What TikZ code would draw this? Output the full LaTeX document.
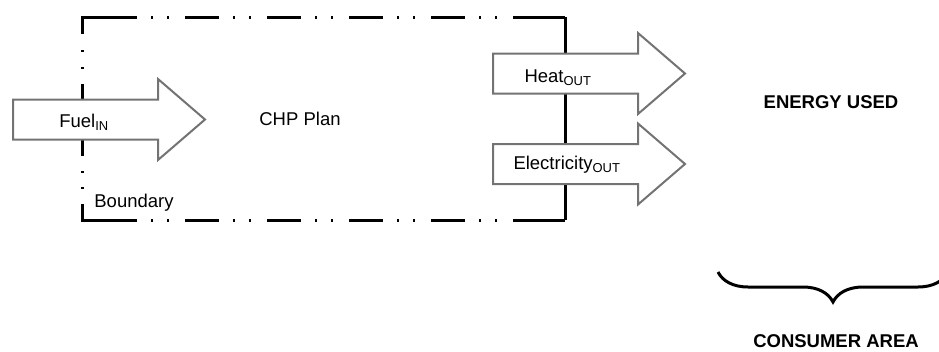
\documentclass[tikz,border=0pt]{standalone}
\usepackage{fontspec}
\setmainfont{Liberation Sans}
\usetikzlibrary{decorations.pathreplacing, positioning}

\begin{document}
\begin{tikzpicture}[x=1pt, y=-1pt,
  lbl/.style={font=\fontsize{18.5}{22}\selectfont, inner sep=0pt},
  hdr/.style={font=\fontsize{18.5}{22}\selectfont\bfseries, inner sep=0pt},
  flow/.style={draw=black!55, line width=2pt, fill=white, line join=miter},
  edge/.style={line width=3pt},
  hline/.style={edge, dash pattern=on 34pt off 14pt on 2pt off 14pt on 2pt off 16pt,
                dash phase=61pt},
  vline/.style={edge, dash pattern=on 17pt off 16pt on 2pt off 15pt on 2pt off 15pt
                on 72pt off 15pt on 2pt off 14pt on 2pt off 15pt on 20pt off 1pt},
]
  \useasboundingbox (0,0) rectangle (939,351);

  % plant boundary
  \coordinate (nw) at (82,17);
  \coordinate (ne) at (565,17);
  \coordinate (sw) at (82,220);
  \coordinate (se) at (565,220);
  \draw[hline] (nw) -- (ne);
  \draw[hline] (sw) -- (se);
  \draw[vline] (nw) -- (sw);
  \draw[edge] (ne) -- (se);
  \draw[edge] (103,17) -- (nw) -- (82,34);
  \draw[edge] (103,220) -- (sw) -- (82,205);
  \draw[edge] (545,17) -- (ne);
  \draw[edge] (545,220) -- (se);

  % energy flows (tail x / centre y)
  \foreach \tx/\cy in {13/119.5, 493/73.5, 493/164}
    \draw[flow] (\tx,\cy-20) -- ++(145,0) -- ++(0,-20.5) -- ++(47,40.5)
      -- ++(-47,40.5) -- ++(0,-20.5) -- ++(-145,0) -- cycle;

  \node[lbl] (fuel) at (84,122) {Fuel\textsubscript{IN}};
  \node[lbl] (heat) at (558,78) {Heat\textsubscript{OUT}};
  \node[lbl] (elec) at (567,165) {Electricity\textsubscript{OUT}};

  \node[lbl] (chp) at (300,119) {CHP Plan};
  \node[lbl] (bnd) at (134,203) {Boundary};
  \node[hdr] (used) at (831,102) {ENERGY USED};
  \node[hdr] (area) at (836,341) {CONSUMER AREA};

  \draw[edge, decorate, decoration={brace, amplitude=30pt, mirror}]
    (718,272) -- (948,272);
\end{tikzpicture}
\end{document}
